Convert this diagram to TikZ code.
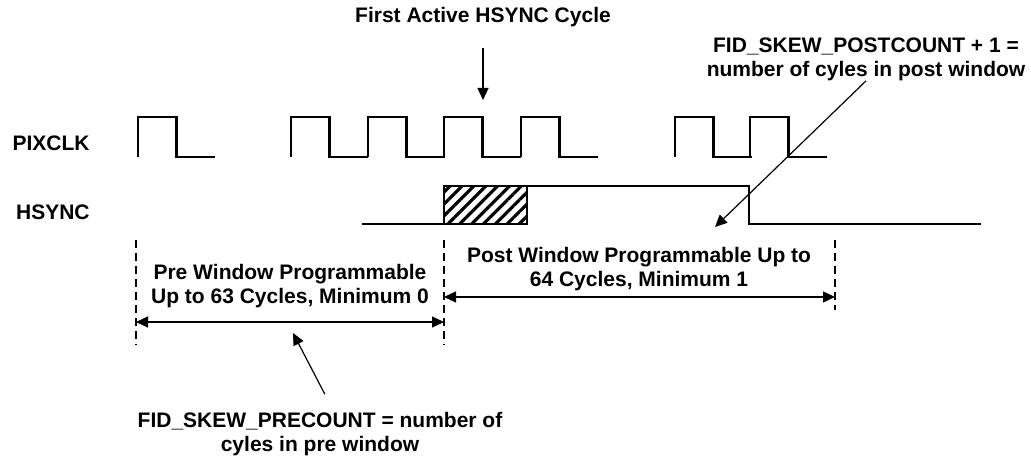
\documentclass[tikz,border=0pt]{standalone}
\usepackage{fontspec}
\setmainfont{Liberation Sans}
\usetikzlibrary{arrows.meta, positioning, patterns.meta}

\begin{document}
\begin{tikzpicture}[
    x=0.5pt, y=-0.5pt,
    lbl/.style={font=\fontsize{10.5}{12}\selectfont\bfseries, inner sep=0pt, align=center},
    wave/.style={line width=1.2pt, line join=miter},
    ptr/.style={-{Triangle[length=6pt, width=5.5pt]}, line width=0.6pt},
    dim/.style={{Triangle[length=6pt, width=5.5pt]}-{Triangle[length=6pt, width=5.5pt]}, line width=0.6pt},
    guide/.style={dash pattern=on 4pt off 2.5pt, line width=0.6pt}
]
\useasboundingbox (0,0) rectangle (1031,458);

\node[lbl, anchor=east] (pixclk) at (90,143) {PIXCLK};
\node[lbl, anchor=east] (hsync) at (90,212) {HSYNC};

% PIXCLK
\foreach \x in {138,291,368,444,521,675,750}
    \draw[wave] (\x,157) -- ++(0,-40) -- ++(38.5,0) -- ++(0,40) -- ++(38.5,0);

% HSYNC
\draw[line width=0.8pt, pattern={Lines[angle=45, distance=4.2pt, line width=1.6pt]}] (444,186) rectangle (527,224);
\draw[wave] (362,224) -- (444,224) -- (444,186) -- (749,186) -- (749,224) -- (981,224);

% windows
\draw[guide] (136,240) -- (136,345);
\draw[guide] (444,240) -- (444,345);
\draw[guide] (835,240) -- (835,310);
\coordinate (preL) at (136,322);
\coordinate (preR) at (444,322);
\coordinate (postL) at (444,297);
\coordinate (postR) at (835,297);
\draw[dim] (preL) -- (preR);
\draw[dim] (postL) -- (postR);
\node[lbl] (pretxt) at (290,286) {Pre Window Programmable\\Up to 63 Cycles, Minimum 0};
\node[lbl] (posttxt) at (639,269) {Post Window Programmable Up to\\64 Cycles, Minimum 1};

% callouts
\node[lbl] (first) at (483,17) {First Active HSYNC Cycle};
\coordinate (firsttip) at (483,100);
\draw[ptr, shorten <=10.5pt] (first.south) -- (firsttip);

\node[lbl] (postcnt) at (866,59) {FID\_SKEW\_POSTCOUNT + 1 =\\number of cyles in post window};
\coordinate (posttip) at (715,227);
\draw[ptr] (postcnt.south) -- (posttip);

\node[lbl] (precnt) at (320,434) {FID\_SKEW\_PRECOUNT = number of\\cyles in pre window};
\coordinate (pretip) at (293,333);
\draw[ptr, shorten <=10pt] ([xshift=7pt]precnt.north) -- (pretip);
\end{tikzpicture}
\end{document}
